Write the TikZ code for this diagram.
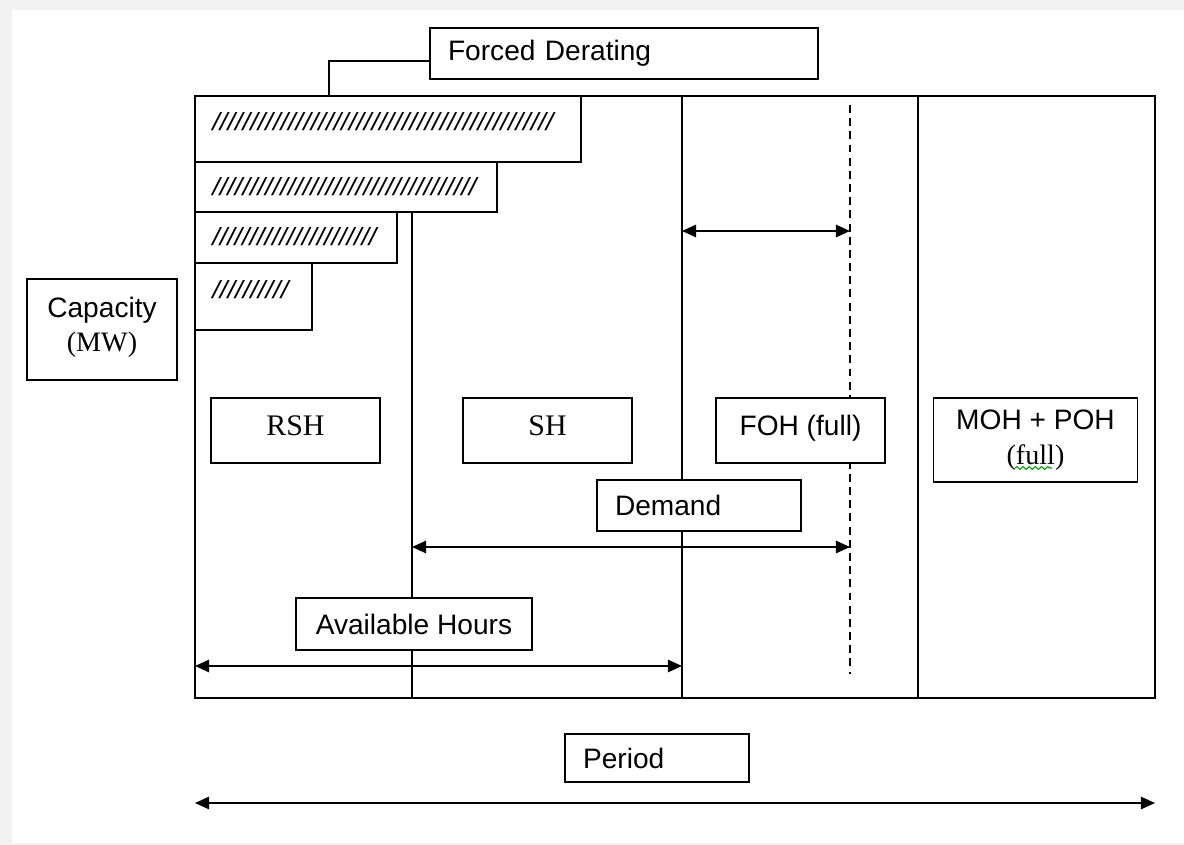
\documentclass[tikz,border=0pt]{standalone}
\usepackage{fontspec}
\setmainfont{Liberation Serif}
\setsansfont{Liberation Sans}
\usepackage{graphicx}
\usetikzlibrary{arrows.meta,decorations.pathmorphing}

\tikzset{
  box/.style={draw, line width=1.1pt, fill=white, inner sep=0pt, align=center,
    font=\sffamily\fontsize{16}{20}\selectfont},
  rbox/.style={box, font=\rmfamily\fontsize{17}{20}\selectfont},
  lbox/.style={box, align=left, inner xsep=0.36cm},
  hatch/.style={anchor=west, inner sep=0pt, font=\sffamily\itshape},
  twoway/.style={{Triangle[length=8pt,width=7pt]}-{Triangle[length=8pt,width=7pt]}, line width=1.1pt},
}
\newcommand\hatchrow[3]{\resizebox{#2}{#3}{\foreach \i in {1,...,#1}{/}}}

\begin{document}
\begin{tikzpicture}[x=0.02cm, y=-0.02cm]
\useasboundingbox (0,0) rectangle (1184,845);
\fill[black!5] (0,0) rectangle (1184,845);
\fill[white] (12,10) rectangle (1184,843);
% cadre et colonnes
\draw[line width=1.1pt] (195,96) rectangle (1155,698);
\draw[line width=1.1pt] (412,212) -- (412,698); % RSH | SH
\draw[line width=1.1pt] (682,96) -- (682,698); % SH | FOH
\draw[line width=1.1pt] (918,96) -- (918,698); % FOH | MOH
\draw[line width=1.1pt, dash pattern=on 4.5pt off 3pt] (850,105) -- (850,674);
% paliers de derating
\draw[line width=1.1pt, fill=white] (195,96) rectangle (581,162);
\draw[line width=1.1pt, fill=white] (195,162) rectangle (497,212);
\draw[line width=1.1pt, fill=white] (195,212) rectangle (397,263);
\draw[line width=1.1pt, fill=white] (195,263) rectangle (312,330);
\node[hatch] (h1) at (212,122) {\hatchrow{45}{6.82cm}{0.36cm}};
\node[hatch] (h2) at (212,187) {\hatchrow{35}{5.28cm}{0.36cm}};
\node[hatch] (h3) at (212,237) {\hatchrow{22}{3.28cm}{0.36cm}};
\node[hatch] (h4) at (212,290) {\hatchrow{10}{1.52cm}{0.36cm}};
% etiquettes
\node[lbox, text width=7.04cm, minimum height=1.02cm] (forced) at (624,53.5) {Forced Derating};
\coordinate (fdtop) at (329,96);
\draw[line width=1.1pt] ([yshift=-0.15cm]forced.west) -| (fdtop);
\node[box, minimum width=3cm, minimum height=2.02cm] (capacity) at (102,329.5) {Capacity\\[-1pt]{\rmfamily (MW)}\\[-14pt]\mbox{}};
\node[rbox, minimum width=3.38cm, minimum height=1.3cm, text depth=6pt] (rsh) at (295.5,430.5) {RSH};
\node[rbox, minimum width=3.38cm, minimum height=1.3cm, text depth=6pt] (sh) at (547.5,430.5) {SH};
\node[box, minimum width=3.38cm, minimum height=1.3cm, text depth=6pt] (foh) at (800.5,430.5) {FOH (full)};
\node[box, minimum width=4.08cm, minimum height=1.68cm] (moh) at (1035.5,440) {MOH + POH\\{\rmfamily (full)}};
\draw[green!60!black, line width=0.6pt, decorate, decoration={snake, amplitude=0.8pt, segment length=3.5pt}] (1015,468) -- (1052,468);
\node[lbox, text width=3.36cm, minimum height=1.02cm] (demand) at (699,505.5) {Demand};
\node[box, minimum width=4.72cm, minimum height=1.04cm] (avail) at (414,624) {Available Hours};
\node[lbox, text width=2.96cm, minimum height=0.96cm] (period) at (657,758) {Period};
% fleches
\coordinate (fohL) at (682,231); \coordinate (fohR) at (850,231);
\coordinate (demL) at (412,547); \coordinate (demR) at (850,547);
\coordinate (avL) at (195,666); \coordinate (avR) at (682,666);
\coordinate (perL) at (195,803); \coordinate (perR) at (1155,803);
\draw[twoway] (fohL) -- (fohR);
\draw[twoway] (demL) -- (demR);
\draw[twoway] (avL) -- (avR);
\draw[twoway] (perL) -- (perR);
\end{tikzpicture}
\end{document}
